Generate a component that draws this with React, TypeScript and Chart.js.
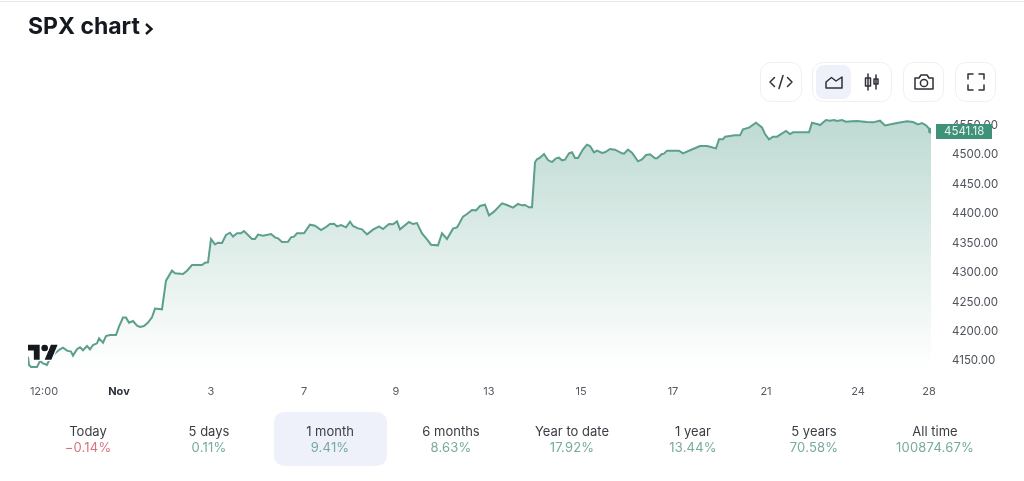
import React, { useEffect, useRef } from "react";
import { Chart, registerables } from "chart.js";

Chart.register(...registerables);

const bars = [0,1,3,9,12,15,19,21,24,27,32,35,39,43,45,49,52,55,59,62,65,69,71,75,78,82,88,91,95,98,101,105,109,112,116,120,124,127,134,138,144,147,155,159,164,174,177,180,183,187,190,194,198,202,205,209,213,216,220,224,227,230,235,243,247,250,254,260,263,266,269,276,282,287,293,297,302,306,309,313,318,322,325,330,334,339,345,351,355,361,365,369,372,381,385,389,394,399,403,410,414,419,425,429,431,435,439,444,448,452,457,461,466,474,479,485,490,494,497,501,504,507,509,512,516,520,524,528,531,534,537,541,544,547,550,555,559,562,566,569,574,577,582,587,594,596,600,604,610,614,618,622,627,629,634,636,639,651,655,665,672,679,682,688,691,695,697,702,707,712,715,721,728,734,737,741,745,749,758,762,765,781,784,789,792,798,802,806,809,814,818,824,829,839,845,852,857,869,879,885,890,894,898,903];
const closes = [4157.4,4143.2,4139.8,4139.8,4150,4146,4143.2,4150.6,4157,4163,4169.9,4172.7,4167.6,4165.9,4159.1,4169.9,4173.3,4168.2,4175.5,4169.9,4177.2,4180,4188.5,4181.2,4192.5,4194.2,4194.2,4208.4,4223.7,4223.7,4215.2,4218,4210.1,4207.8,4209.5,4215.2,4224.2,4239,4237.8,4286.5,4303.5,4299,4297.8,4303.5,4313.1,4313.1,4317.1,4317.7,4357.3,4348.2,4351,4350.5,4364.1,4368,4361.3,4366.9,4366.9,4370.9,4364.1,4357.3,4357.3,4364.7,4363,4365.8,4360.1,4358.4,4352.2,4352.7,4360.1,4361.2,4366.9,4366.9,4381.6,4379.9,4372.5,4376.5,4382.7,4383.3,4378.8,4381,4377.1,4386.7,4379.4,4375.4,4373.7,4365.2,4373.1,4378.8,4374.3,4382.7,4382.2,4387.3,4373.7,4386.1,4382.7,4384.4,4366.9,4356.7,4347.6,4346.5,4367,4357.3,4374.9,4377.1,4382.8,4395.3,4399.8,4406.6,4406,4413.4,4415.6,4397.5,4403.8,4417.9,4415.1,4410.6,4416.8,4414.5,4415.1,4411.1,4411.1,4487.6,4492.7,4495.5,4501.7,4491.5,4488.1,4494.4,4495.5,4491,4492.1,4502.9,4504.6,4494.9,4494.9,4509.7,4517.6,4515.3,4504.6,4507.4,4503.4,4504.6,4510.2,4509.1,4502.9,4502.3,4509.1,4504,4489.3,4492.7,4500,4501.2,4494.4,4494.4,4501.7,4502.3,4507.4,4507.4,4502.8,4510.2,4515.3,4515.3,4514.2,4511.3,4526.6,4526.6,4531.2,4532.3,4533.4,4533.4,4543.6,4546.5,4554.9,4547,4535.7,4526.6,4531.2,4531.2,4540.8,4535.7,4538.5,4538.5,4554.9,4552.7,4551,4559.5,4558.3,4559.5,4557.8,4559.5,4556.6,4557.2,4557.8,4556.1,4555.5,4558.3,4550.4,4554.4,4557.2,4556.1,4552.1,4554.4,4550.4,4541.18];

const xTickBars = [16, 91, 183, 276, 368, 461, 553, 645, 738, 830, 901];
const xTickLabels = ["12:00", "Nov", "3", "7", "9", "13", "15", "17", "21", "24", "28"];
const yTickValues = [4150, 4200, 4250, 4300, 4350, 4400, 4450, 4500, 4550];
const lastPriceLabel = "4541.18";

const periodNames = ["Today", "5 days", "1 month", "6 months", "Year to date", "1 year", "5 years", "All time"];
const periodChanges = ["−0.14%", "0.11%", "9.41%", "8.63%", "17.92%", "13.44%", "70.58%", "100874.67%"];
const activePeriod = "1 month";

const FONT = "Inter, 'Noto Sans', sans-serif";
const LINE = "#5b9f8c";
const TAG = "#3f9179";

const lastTagPlugin = {
  id: "lastTag",
  afterDraw(chart: any) {
    const { ctx, scales } = chart;
    const y = scales.y.getPixelForValue(closes[closes.length - 1]);
    ctx.save();
    ctx.fillStyle = TAG;
    ctx.fillRect(936, Math.round(y) - 7, 56, 15);
    ctx.fillStyle = "#e8f3ef";
    ctx.font = `11.5px ${FONT}`;
    ctx.textAlign = "left";
    ctx.textBaseline = "middle";
    ctx.fillText(lastPriceLabel, 944, y + 0.5);
    ctx.restore();
  },
};

const btn: React.CSSProperties = {
  position: "absolute",
  top: 62,
  height: 40,
  boxSizing: "border-box",
  border: "1px solid #eef0f3",
  borderRadius: 11,
  background: "#fff",
};

const icon = { fill: "none", stroke: "#2e3138", strokeWidth: 1.5, strokeLinecap: "round", strokeLinejoin: "round" } as any;

export default function App() {
  const ref = useRef<HTMLCanvasElement>(null);

  useEffect(() => {
    const chart = new Chart(ref.current!, {
      type: "line",
      data: {
        datasets: [
          {
            data: bars.map((b, i) => ({ x: b, y: closes[i] })),
            borderColor: LINE,
            borderWidth: 2,
            tension: 0,
            fill: "start",
            backgroundColor: (c: any) => {
              const area = c.chart.chartArea;
              if (!area) return "transparent";
              const g = c.chart.ctx.createLinearGradient(0, 120, 0, 368);
              g.addColorStop(0, "rgba(64,148,124,0.34)");
              g.addColorStop(1, "rgba(64,148,124,0)");
              return g;
            },
            pointRadius: (c: any) => (c.dataIndex === bars.length - 1 ? 3 : 0),
            pointBackgroundColor: LINE,
            pointBorderWidth: 0,
          },
        ],
      },
      options: {
        animation: false,
        responsive: false,
        layout: { padding: { left: 28, top: 110, right: 0, bottom: 81 } },
        plugins: { legend: { display: false }, tooltip: { enabled: false } },
        scales: {
          x: {
            type: "linear",
            min: 0,
            max: 903,
            grid: { display: false },
            border: { display: false },
            afterFit: (s: any) => { s.height = 28; },
            afterBuildTicks: (s: any) => { s.ticks = xTickBars.map((value) => ({ value })); },
            ticks: {
              autoSkip: false,
              maxRotation: 0,
              padding: 5,
              color: (c: any) => (c.index === 1 ? "#2a2e39" : "#555a63"),
              font: (c: any) => ({ family: FONT, size: 11, weight: c.index === 1 ? "700" : "400" }),
              callback: (_v: any, i: number) => xTickLabels[i],
            },
          },
          y: {
            position: "right",
            min: 4131.3,
            max: 4576.5,
            grid: { display: false },
            border: { display: false },
            afterFit: (s: any) => { s.width = 93; },
            afterBuildTicks: (s: any) => { s.ticks = yTickValues.map((value) => ({ value })); },
            ticks: {
              padding: 13,
              color: "#4d525b",
              font: { family: FONT, size: 11.5 },
              callback: (v: any) => Number(v).toFixed(2),
            },
          },
        },
      },
      plugins: [lastTagPlugin],
    } as any);
    return () => chart.destroy();
  }, []);

  return (
    <div style={{ position: "absolute", left: 0, top: 0, width: 1024, height: 481, background: "#fff", overflow: "hidden", fontFamily: FONT }}>
      <canvas ref={ref} width={1024} height={481} style={{ position: "absolute", left: 0, top: 0 }} />

      <div style={{ position: "absolute", left: 0, top: 1, width: 1024, height: 1, background: "#e6e6e6" }} />

      <div style={{ position: "absolute", left: 28, top: 11, fontSize: 23, lineHeight: "30px", fontWeight: 700, color: "#15181f", whiteSpace: "nowrap" }}>
        SPX chart
      </div>
      <svg width="12" height="14" style={{ position: "absolute", left: 143, top: 22 }}>
        <path d="M3 2 L8.5 7 L3 12" fill="none" stroke="#15181f" strokeWidth="2.4" />
      </svg>

      <svg width="30" height="24" viewBox="0 0 36 28" style={{ position: "absolute", left: 28, top: 341 }}>
        <g stroke="#fff" strokeWidth="3" paintOrder="stroke" fill="#15181f">
          <path d="M14 22H7V11H0V4h14v18zM28 22h-8l7.5-18h8L28 22z" />
          <circle cx="20" cy="8" r="4" />
        </g>
      </svg>

      <div style={{ ...btn, left: 760, width: 42 }}>
        <svg width="40" height="38" {...icon}>
          <path d="M13.5 14.5 L9 19 L13.5 23.5 M26.5 14.5 L31 19 L26.5 23.5 M22 12.5 L18 25.5" transform="translate(0,0)" />
        </svg>
      </div>
      <div style={{ ...btn, left: 812, width: 80 }}>
        <div style={{ position: "absolute", left: 3, top: 2, width: 35, height: 34, background: "#eef1f9", borderRadius: 8 }} />
        <svg width="78" height="38" style={{ position: "absolute", left: 0, top: 0 }} {...icon}>
          <path d="M13 25 H29 V14 L23 18 L18.5 14.5 L13 19 Z" />
          <path d="M55 11 V27 M55 15 H52.5 V23 H57.5 V15 Z M63 12 V26 M61 16 H65 V21 H61 Z" />
        </svg>
      </div>
      <div style={{ ...btn, left: 903, width: 41 }}>
        <svg width="39" height="38" {...icon}>
          <path d="M11 15 H15 L17 12 H23 L25 15 H29 V26 H11 Z" />
          <circle cx="20" cy="20" r="3.6" />
        </svg>
      </div>
      <div style={{ ...btn, left: 955, width: 41 }}>
        <svg width="39" height="38" {...icon}>
          <path d="M12 16 V11 H17 M23 11 H28 V16 M28 22 V27 H23 M17 27 H12 V22" />
        </svg>
      </div>

      <div style={{ position: "absolute", left: 274, top: 412, width: 113, height: 54, background: "#eef1f9", borderRadius: 10 }} />
      {periodNames.map((name, i) => (
        <div key={name} style={{ position: "absolute", left: 28 + i * 121, top: 423, width: 120, textAlign: "center", fontSize: 13, lineHeight: "16px", whiteSpace: "nowrap" }}>
          <div style={{ color: "#3a3d44" }}>{name}</div>
          <div style={{ color: periodChanges[i].startsWith("−") ? "#d9727f" : "#76ab9b", letterSpacing: 0.2 }}>{periodChanges[i]}</div>
        </div>
      ))}
    </div>
  );
}
